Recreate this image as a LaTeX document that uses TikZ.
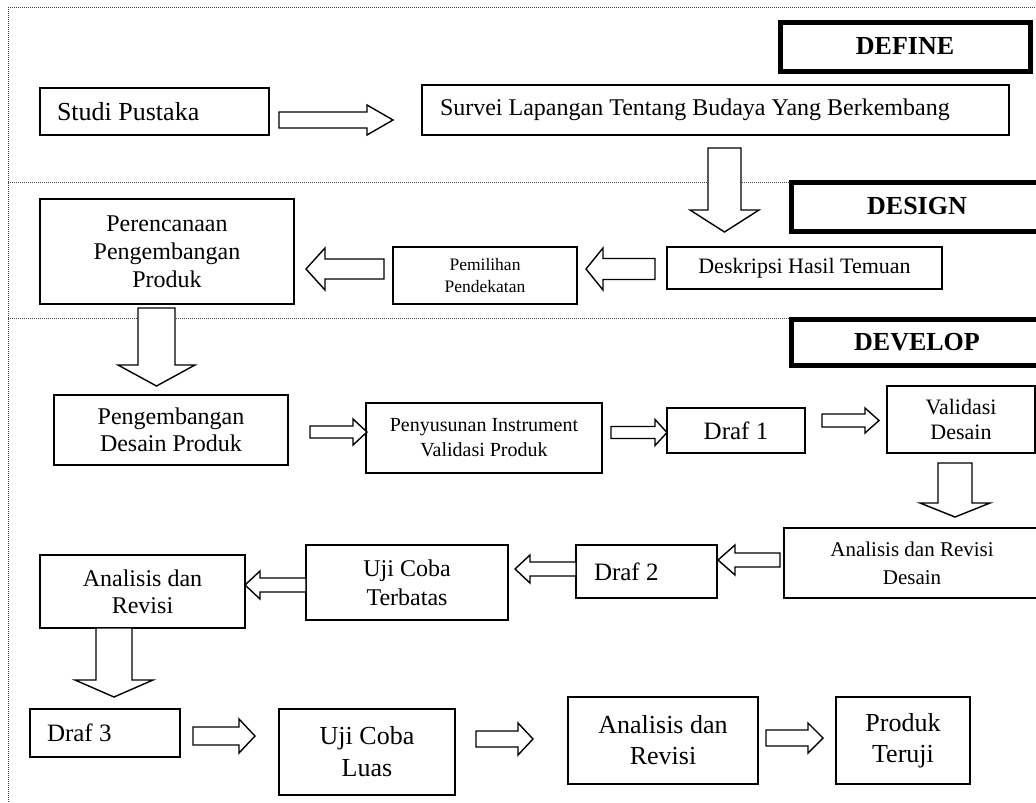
\documentclass[tikz,border=0pt]{standalone}
\usepackage{fontspec}
\setmainfont{Liberation Serif}
\newcommand{\ArrR}[6]{\draw[blk] (#1,#3-#4) -- (#2-#6,#3-#4) -- (#2-#6,#3-#5) -- (#2,#3) -- (#2-#6,#3+#5) -- (#2-#6,#3+#4) -- (#1,#3+#4) -- cycle;}
\newcommand{\ArrL}[6]{\draw[blk] (#2,#3-#4) -- (#1+#6,#3-#4) -- (#1+#6,#3-#5) -- (#1,#3) -- (#1+#6,#3+#5) -- (#1+#6,#3+#4) -- (#2,#3+#4) -- cycle;}
\newcommand{\ArrD}[6]{\draw[blk] (#1-#4,#2) -- (#1-#4,#3-#6) -- (#1-#5,#3-#6) -- (#1,#3) -- (#1+#5,#3-#6) -- (#1+#4,#3-#6) -- (#1+#4,#2) -- cycle;}
\newcommand{\fs}[2]{\fontsize{#1}{#2}\selectfont}
\tikzset{
  bx/.style={draw, line width=1.6pt, align=center, inner sep=0pt},
  lbl/.style={draw, line width=5pt, inner sep=0pt, font=\fs{26}{30}\bfseries},
  blk/.style={draw, line width=1.4pt, fill=white, line join=miter},
  frame/.style={densely dotted, line width=1pt, color=black!75}
}
\begin{document}
\begin{tikzpicture}[x=1pt,y=-1pt]
\useasboundingbox[fill=white] (0,0) rectangle (1036,803);
% frame
\draw[frame] (8,7) -- (1036,7);
\draw[frame] (8,7) -- (8,803);
\draw[frame] (8,182) -- (789,182);
\draw[frame] (8,318) -- (789,318);
% phase labels
\node[lbl, minimum width=250pt, minimum height=49pt] (define) at (905,46.5) {DEFINE};
\node[lbl, minimum width=252pt, minimum height=49pt] (design) at (917,206.5) {DESIGN};
\node[lbl, minimum width=252pt, minimum height=46pt] (develop) at (917,342) {DEVELOP};
% DEFINE
\node[bx, minimum width=229pt, minimum height=47pt, text width=195pt, inner xsep=17pt, align=flush left, font=\fs{26}{30}] (studi) at (154.5,111.5) {Studi Pustaka};
\node[bx, minimum width=587pt, minimum height=50pt, text width=551pt, inner xsep=18pt, align=flush left, font=\fs{24}{28}] (survei) at (715.5,110) {Survei Lapangan Tentang Budaya Yang Berkembang};
% DESIGN
\node[bx, minimum width=254pt, minimum height=105pt, font=\fs{24}{28}] (rencana) at (167,251.5) {Perencanaan\\Pengembangan\\Produk};
\node[bx, minimum width=184pt, minimum height=57pt, font=\fs{17.5}{22}] (pilih) at (485,275.5) {Pemilihan\\Pendekatan};
\node[bx, minimum width=275pt, minimum height=42pt, font=\fs{22}{26}] (deskripsi) at (804.5,268) {Deskripsi Hasil Temuan};
% DEVELOP
\node[bx, minimum width=234pt, minimum height=70pt, font=\fs{24}{27}] (pengdesain) at (171,430) {Pengembangan\\Desain Produk};
\node[bx, minimum width=236pt, minimum height=70pt, font=\fs{20}{25}] (susun) at (484,438) {Penyusunan Instrument\\Validasi Produk};
\node[bx, minimum width=138pt, minimum height=45pt, font=\fs{25}{29}] (draf1) at (736,430.5) {Draf 1};
\node[bx, minimum width=148pt, minimum height=67pt, font=\fs{22}{25}] (validasi) at (961,419.5) {Validasi\\Desain};
\node[bx, minimum width=256pt, minimum height=70pt, font=\fs{21}{28}] (ard) at (912,563) {Analisis dan Revisi\\Desain};
\node[bx, minimum width=141pt, minimum height=53pt, text width=105pt, inner xsep=18pt, align=flush left, font=\fs{25}{29}] (draf2) at (646.5,571.5) {Draf 2};
\node[bx, minimum width=202pt, minimum height=75pt, font=\fs{24}{29}] (terbatas) at (407,582.5) {Uji Coba\\Terbatas};
\node[bx, minimum width=205pt, minimum height=73pt, font=\fs{24}{27}] (analisis) at (142.5,591.5) {Analisis dan\\Revisi};
\node[bx, minimum width=150pt, minimum height=48pt, text width=116pt, inner xsep=17pt, align=flush left, font=\fs{25}{29}] (draf3) at (105,733) {Draf 3};
\node[bx, minimum width=176pt, minimum height=86pt, font=\fs{26}{32}] (luas) at (367,752) {Uji Coba\\Luas};
\node[bx, minimum width=190pt, minimum height=87pt, font=\fs{26}{31}] (arb) at (663,740.5) {Analisis dan\\Revisi};
\node[bx, minimum width=134pt, minimum height=87pt, font=\fs{26}{31}] (produk) at (903,740.5) {Produk\\Teruji};
% block arrows
\ArrR{279}{393}{120}{8}{15}{26}
\ArrD{724.5}{148}{232}{16.5}{34.5}{22}
\ArrL{586}{655}{269}{10.5}{21}{17}
\ArrL{306}{384}{269}{10}{21}{19}
\ArrD{156.5}{308}{386}{18.5}{38.5}{21}
\ArrR{310}{367}{432}{6}{13}{14}
\ArrR{611}{667}{432.5}{6}{13}{12}
\ArrR{822}{879}{420.5}{6.5}{12.5}{14}
\ArrD{955}{463}{517}{17}{35}{14}
\ArrL{718}{780}{560}{7}{15}{17}
\ArrL{515}{576}{569}{7}{14}{15}
\ArrL{245}{306}{585}{7}{14}{15}
\ArrD{114}{628}{697}{18}{39}{17}
\ArrR{193}{255}{736}{9}{17}{16}
\ArrR{476}{533}{739}{8}{16}{15}
\ArrR{766}{823}{738}{8}{15}{15}
\end{tikzpicture}
\end{document}
